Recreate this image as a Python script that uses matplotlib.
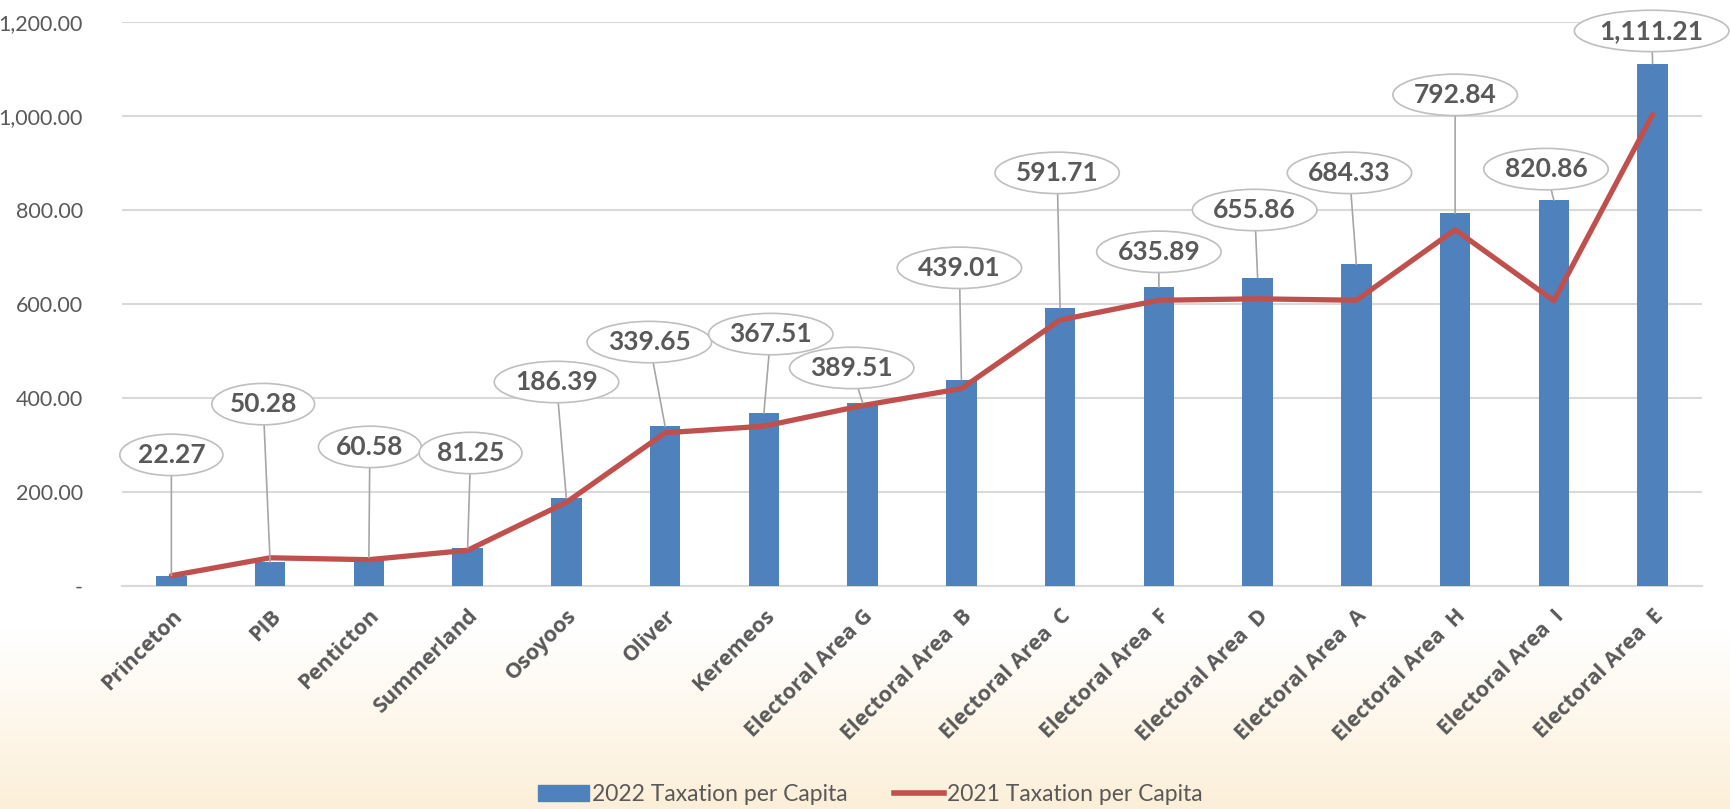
import numpy as np
import matplotlib
matplotlib.use("Agg")
import matplotlib.pyplot as plt
from matplotlib.patches import Patch
from matplotlib.lines import Line2D
from matplotlib.ticker import FuncFormatter

categories = ["Princeton", "PIB", "Penticton", "Summerland", "Osoyoos", "Oliver",
              "Keremeos", "Electoral Area G", "Electoral Area  B", "Electoral Area  C",
              "Electoral Area  F", "Electoral Area  D", "Electoral Area  A",
              "Electoral Area  H", "Electoral Area  I", "Electoral Area  E"]
tax_2022 = [22.27, 50.28, 60.58, 81.25, 186.39, 339.65, 367.51, 389.51, 439.01,
            591.71, 635.89, 655.86, 684.33, 792.84, 820.86, 1111.21]
tax_2021 = [22, 60, 56, 76, 178, 326, 340, 384, 420, 566, 608, 611, 608, 758, 607, 1003]
# where each callout bubble sits (x in category units, y in data units)
label_x = [0.0, 0.93, 2.01, 3.03, 3.90, 4.84, 6.07, 6.89, 7.98, 8.97, 10.0, 10.97,
           11.93, 13.0, 13.92, 14.99]
label_y = [279, 387, 296, 283, 434, 519, 536, 464, 677, 879, 711, 800, 879, 1045, 887, 1181]

blue = "#4F81BD"
red = "#C0504D"
txt = "#595959"
grid = "#D9D9D9"

fig = plt.figure(figsize=(17.31, 8.09), dpi=100)

# cream gradient at bottom of figure
bg = fig.add_axes([0, 0, 1, 1], zorder=-10)
n = 809
grad = np.ones((n, 1, 3))
top_c = np.array([1.0, 1.0, 1.0])
bot_c = np.array([252, 239, 216]) / 255.0
start = 630
for r in range(n):
    if r >= start:
        t = (r - start) / (n - start)
        grad[r, 0] = top_c * (1 - t) + bot_c * t
bg.imshow(grad, aspect="auto", extent=[0, 1, 0, 1])
bg.axis("off")

ax = fig.add_axes([122 / 1731, 1 - 586 / 809, 1580 / 1731, 564 / 809])
ax.set_facecolor("none")

x = np.arange(len(categories))
ax.bar(x, tax_2022, width=0.31, color=blue, zorder=3)
ax.plot(x, tax_2021, color=red, lw=3.8, solid_joinstyle="round",
        solid_capstyle="round", zorder=4)

ax.set_xlim(-0.5, len(categories) - 0.5)
ax.set_ylim(0, 1200)
ax.set_yticks(range(0, 1201, 200))
ax.yaxis.set_major_formatter(FuncFormatter(lambda v, p: "-" if v == 0 else f"{v:,.2f}"))
ax.grid(axis="y", color=grid, lw=1.5, zorder=0)
for s in ["top", "right", "left"]:
    ax.spines[s].set_visible(False)
ax.spines["bottom"].set_color(grid)
ax.spines["bottom"].set_linewidth(1.5)
ax.tick_params(axis="both", length=0)
ax.tick_params(axis="y", pad=28, labelsize=15.5, labelcolor=txt)
for lab in ax.get_yticklabels():
    lab.set_family(["Lato", "DejaVu Sans"])

ax.set_xticks(x)
ax.set_xticklabels(categories, rotation=45, ha="right", rotation_mode="anchor",
                   fontsize=15.5, fontweight="bold", color=txt,
                   family=["Open Sans", "DejaVu Sans"])
ax.tick_params(axis="x", pad=14)

for i, v in enumerate(tax_2022):
    ax.annotate(f"{v:,.2f}", xy=(i, v), xytext=(label_x[i], label_y[i]),
                ha="center", va="center", fontsize=19, fontweight="bold", color=txt,
                family=["Lato", "DejaVu Sans"], zorder=6,
                bbox=dict(boxstyle="ellipse,pad=0.1", fc="white", ec="#BFBFBF", lw=1.2),
                arrowprops=dict(arrowstyle="-", color="#A6A6A6", lw=1.2,
                                shrinkA=0, shrinkB=0))

handles = [Patch(color=blue), Line2D([0], [0], color=red, lw=4)]
fig.legend(handles, ["2022 Taxation per Capita", "2021 Taxation per Capita"],
           loc="center", bbox_to_anchor=(0.503, 0.018), ncol=2, frameon=False,
           prop={"family": ["Lato", "DejaVu Sans"], "size": 16.5},
           labelcolor=txt, handlelength=2.2, columnspacing=2.0, handletextpad=0.15)

fig.savefig("out.png", dpi=100)
